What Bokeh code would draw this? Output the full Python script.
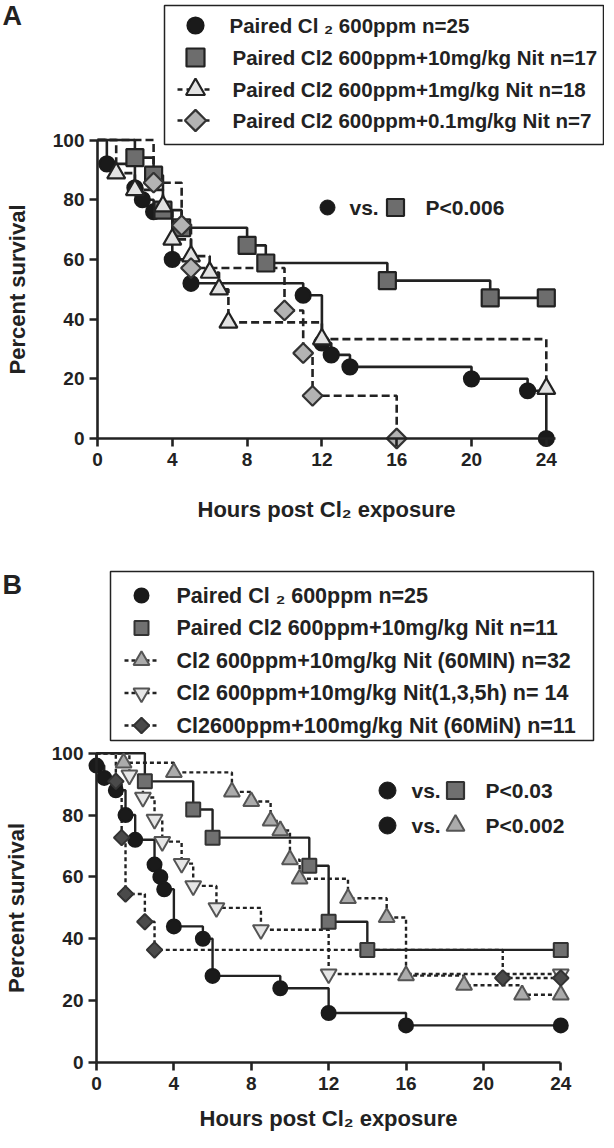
from bokeh.plotting import figure
from bokeh.layouts import column
from bokeh.models import Range1d, FixedTicker
from bokeh.core.properties import value
from bokeh.embed import file_html
from bokeh.resources import INLINE

FONT = "Liberation Sans"
INK = "#222222"

# ---------------- data : panel A ----------------
x_ticks = [0, 4, 8, 12, 16, 20, 24]
y_ticks = [0, 20, 40, 60, 80, 100]

A_circ_t = [0, 0.5, 2.0, 2.4, 3.0, 4.0, 5.0, 11.0, 12.0, 12.5, 13.5, 20.0, 23.0, 24.0]
A_circ_s = [100, 92, 84, 80, 76, 60, 52, 48, 32, 28, 24, 20, 16, 0]
A_sq_t = [0, 2.0, 3.0, 3.5, 4.5, 8.0, 9.0, 15.5, 21.0, 24.0]
A_sq_s = [100, 94.1, 88.2, 76.5, 70.6, 64.7, 58.8, 52.9, 47.1, 47.1]
A_tri_t = [0, 1.0, 2.0, 3.5, 4.0, 5.0, 6.0, 6.5, 7.0, 12.0, 24.0]
A_tri_s = [100, 88.9, 83.3, 77.8, 66.7, 61.1, 55.6, 50.0, 38.9, 33.3, 16.7]
A_dia_t = [0, 3.0, 4.5, 5.0, 10.0, 11.0, 11.5, 16.0]
A_dia_s = [100, 85.7, 71.4, 57.1, 42.9, 28.6, 14.3, 0]

A_labels = ["Paired Cl \u2082 600ppm n=25",
            "Paired Cl2 600ppm+10mg/kg Nit n=17",
            "Paired Cl2 600ppm+1mg/kg Nit n=18",
            "Paired Cl2 600ppm+0.1mg/kg Nit n=7"]
A_pval = "P<0.006"

# ---------------- data : panel B ----------------
B_circ_t = [0, 0, 0.4, 1.0, 1.5, 2.0, 3.0, 3.3, 3.5, 4.0, 5.5, 6.0, 9.5, 12.0, 16.0, 24.0]
B_circ_s = [100, 96, 92, 88, 80, 72, 64, 60, 56, 44, 40, 28, 24, 16, 12, 12]
B_sq_t = [0, 2.5, 5.0, 6.0, 11.0, 12.0, 14.0, 24.0]
B_sq_s = [100, 90.9, 81.8, 72.7, 63.6, 45.5, 36.4, 36.4]
B_tri_t = [0, 1.4, 4.0, 7.0, 8.0, 9.0, 9.5, 10.0, 10.5, 13.0, 15.0, 16.0, 19.0, 22.0, 24.0]
B_tri_s = [100, 96.9, 93.8, 87.5, 84.4, 78.1, 75.0, 65.6, 59.4, 53.1, 46.9, 28.1, 25.0, 21.9, 21.9]
B_inv_t = [0, 1.7, 2.4, 3.0, 3.4, 4.4, 5.0, 6.2, 8.5, 12.0, 24.0]
B_inv_s = [100, 92.9, 85.7, 78.6, 71.4, 64.3, 57.1, 50.0, 42.9, 28.6, 28.6]
B_dia_t = [0, 1.0, 1.3, 1.5, 2.5, 3.0, 21.0, 24.0]
B_dia_s = [100, 90.9, 72.7, 54.5, 45.5, 36.4, 27.3, 27.3]

B_labels = ["Paired Cl \u2082 600ppm n=25",
            "Paired Cl2 600ppm+10mg/kg Nit n=11",
            "Cl2 600ppm+10mg/kg Nit (60MIN) n=32",
            "Cl2 600ppm+10mg/kg Nit(1,3,5h) n= 14",
            "Cl2600ppm+100mg/kg Nit (60MiN) n=11"]
B_pvals = ["P<0.03", "P<0.002"]

X_TITLE = "Hours post Cl\u2082 exposure"
Y_TITLE = "Percent survival"

W = 604

# ---------------- pixel <-> data helpers (layout only) ----------------
A_TOP, A_H = 8, 552
def ax(px): return (px - 105.0) / 18.7
def ay(py): return (446.0 - py) / 2.985
B_TOP, B_H = 560, 580
def bx(px): return (px - 104.0) / 19.345
def by(py): return (1070.0 - py) / 3.093


def base_fig(fx, fy, top, h, xbound, xlab_standoff, ylab_standoff):
    p = figure(width=W, height=h,
               x_range=Range1d(fx(8), fx(8 + W)),
               y_range=Range1d(fy(top + h), fy(top)),
               output_backend="svg", toolbar_location=None, title=None,
               min_border=0)
    p.min_border_left = 0
    p.min_border_right = 0
    p.min_border_top = 0
    p.min_border_bottom = 0
    p.outline_line_color = None
    p.xgrid.visible = False
    p.ygrid.visible = False
    for a in (p.xaxis, p.yaxis):
        a.axis_line_width = 2.6
        a.axis_line_color = INK
        a.major_tick_line_width = 2.6
        a.major_tick_line_color = INK
        a.major_tick_out = 8
        a.major_tick_in = 0
        a.minor_tick_out = 0
        a.minor_tick_in = 0
        a.major_label_text_font = FONT
        a.major_label_text_font_style = "bold"
        a.major_label_text_font_size = "19px"
        a.major_label_text_color = INK
        a.axis_label_text_font = FONT
        a.axis_label_text_font_style = "bold"
        a.axis_label_text_font_size = "22px"
        a.axis_label_text_color = INK
    p.xaxis.fixed_location = 0
    p.yaxis.fixed_location = 0
    p.xaxis.bounds = xbound
    p.yaxis.bounds = (0, 100)
    p.xaxis.ticker = FixedTicker(ticks=x_ticks)
    p.yaxis.ticker = FixedTicker(ticks=y_ticks)
    p.xaxis.major_label_standoff = 6
    p.yaxis.major_label_standoff = 5
    p.xaxis.axis_label = X_TITLE
    p.yaxis.axis_label = Y_TITLE
    p.xaxis.axis_label_standoff = xlab_standoff
    p.yaxis.axis_label_standoff = ylab_standoff
    return p


def txt(p, x, y, t, size, align="left"):
    p.text(x=x, y=y, text=t, text_font=value(FONT), text_font_style="bold",
           text_font_size=size, text_baseline="middle", text_align=align,
           text_color=INK)

# ======================= PANEL A =======================
pA = base_fig(ax, ay, A_TOP, A_H, (0, 24.5), 28, 20)

A_series = [
    (A_circ_t, A_circ_s, dict(marker="circle", size=15, fill_color="#1a1a1a", line_color="#1a1a1a"), None),
    (A_sq_t, A_sq_s, dict(marker="square", size=17, fill_color="#6d6d6d", line_color="#222222"), None),
    (A_tri_t, A_tri_s, dict(marker="triangle", size=18, fill_color="#e2e2e2", line_color="#222222"), "8 4"),
    (A_dia_t, A_dia_s, dict(marker="square", angle=0.785398, size=14, fill_color="#b3b3b3", line_color="#333333"), "8 4"),
]
for t, s, m, dash in A_series:
    kw = dict(line_width=2.6, line_color="#222222")
    if dash:
        kw["line_dash"] = dash
    pA.step(x=t, y=s, mode="after", **kw)
for t, s, m, dash in A_series:
    pA.scatter(x=t[1:], y=s[1:], line_width=2.2, **m)

# legend A (drawn box)
pA.quad(left=[ax(172)], right=[ax(611)], top=[ay(13)], bottom=[ay(152)],
        fill_color=None, line_color=INK, line_width=1.5)
rowsA = [33, 65, 97, 128]
for i, (t, s, m, dash) in enumerate(A_series):
    if dash:
        pA.segment(x0=[ax(185)], y0=[ay(rowsA[i])], x1=[ax(221)], y1=[ay(rowsA[i])],
                   line_width=2.4, line_color="#222222", line_dash="5 4")
    mm = dict(m)
    mm["size"] = m["size"] + 1
    pA.scatter(x=[ax(203)], y=[ay(rowsA[i])], line_width=2.2, **mm)
txt(pA, [ax(237)] + [ax(240)] * 3, [ay(r) for r in rowsA], A_labels, "20.5px")

# annotation A
pA.scatter(x=[ax(335)], y=[ay(215)], **A_series[0][2])
pA.scatter(x=[ax(403)], y=[ay(215)], line_width=2.2, **A_series[1][2])
txt(pA, [ax(357)], [ay(215)], ["vs."], "21px")
txt(pA, [ax(433)], [ay(215)], [A_pval], "21px")
txt(pA, [ax(10)], [ay(23)], ["A"], "27px")

# ======================= PANEL B =======================
pB = base_fig(bx, by, B_TOP, B_H, (0, 24), 13, 20)

B_series = [
    (B_circ_t, B_circ_s, dict(marker="circle", size=14, fill_color="#1a1a1a", line_color="#1a1a1a"), None),
    (B_sq_t, B_sq_s, dict(marker="square", size=14, fill_color="#707070", line_color="#333333"), None),
    (B_tri_t, B_tri_s, dict(marker="triangle", size=16, fill_color="#ababab", line_color="#555555"), "4 3"),
    (B_inv_t, B_inv_s, dict(marker="inverted_triangle", size=16, fill_color="#e6e6e6", line_color="#555555"), "4 3"),
    (B_dia_t, B_dia_s, dict(marker="square", angle=0.785398, size=11, fill_color="#4a4a4a", line_color="#333333"), "4 3"),
]
for t, s, m, dash in B_series:
    kw = dict(line_width=2.4, line_color="#222222")
    if dash:
        kw["line_dash"] = dash
    pB.step(x=t, y=s, mode="after", **kw)
for t, s, m, dash in B_series:
    pB.scatter(x=t[1:], y=s[1:], line_width=2.0, **m)

pB.quad(left=[bx(118)], right=[bx(601)], top=[by(579)], bottom=[by(748)],
        fill_color=None, line_color=INK, line_width=1.5)
rowsB = [603, 635.5, 668, 700.5, 733]
for i, (t, s, m, dash) in enumerate(B_series):
    if dash:
        pB.segment(x0=[bx(132)], y0=[by(rowsB[i])], x1=[bx(167)], y1=[by(rowsB[i])],
                   line_width=2.4, line_color="#222222", line_dash="4 3")
    pB.scatter(x=[bx(149)], y=[by(rowsB[i])], line_width=2.0, **m)
txt(pB, [bx(184)] * 5, [by(r) for r in rowsB], B_labels, "21.5px")

# annotations B
for k, r in enumerate([798, 833]):
    pB.scatter(x=[bx(395)], y=[by(r)], **dict(B_series[0][2], size=17))
    txt(pB, [bx(419)], [by(r)], ["vs."], "21px")
    txt(pB, [bx(493)], [by(r)], [B_pvals[k]], "21px")
pB.scatter(x=[bx(463)], y=[by(798)], line_width=2.2, **dict(B_series[1][2], size=17))
pB.scatter(x=[bx(463)], y=[by(833)], line_width=2.0, **dict(B_series[2][2], size=18))
txt(pB, [bx(10)], [by(592)], ["B"], "27px")

layout = column(pA, pB)
open("out.html", "w").write(file_html(layout, INLINE))
